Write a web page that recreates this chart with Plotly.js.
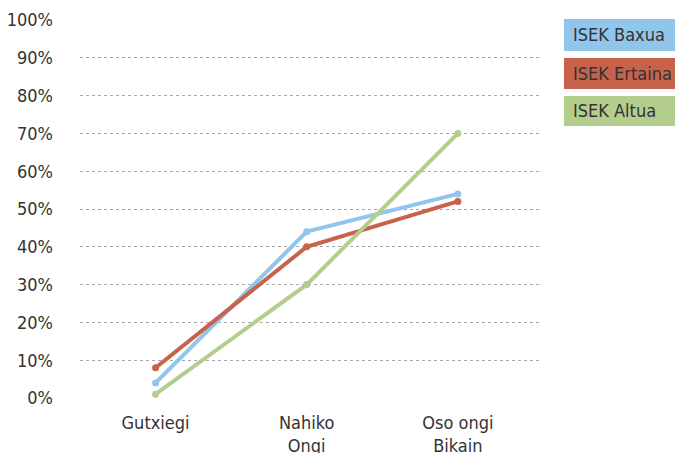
<!DOCTYPE html>
<html><head><meta charset="utf-8">
<script src="https://cdn.plot.ly/plotly-3.0.1.min.js"></script>
<style>body{margin:0;background:#fff}#c{width:675px;height:453px}</style>
</head><body><div id="c"></div>
<script>
const categories = ["Gutxiegi", "Nahiko<br>Ongi", "Oso ongi<br>Bikain"];
const seriesNames = ["ISEK Baxua", "ISEK Ertaina", "ISEK Altua"];
const baxua = [4, 44, 54];
const ertaina = [8, 40, 52];
const altua = [1, 30, 70];
const yTicks = [0,10,20,30,40,50,60,70,80,90,100];
const colors = ["#92c5ec", "#c9624b", "#b3cd8c"];
const FONT = "'Liberation Sans Narrow', 'DejaVu Sans Condensed', sans-serif";

const data = [baxua, ertaina, altua].map((vals, i) => ({
  x: [0,1,2], y: vals, name: seriesNames[i], type: 'scatter', mode: 'lines+markers',
  line: {color: colors[i], width: 4}, marker: {color: colors[i], size: 7},
  showlegend: false, hoverinfo: 'none'
}));

const legTops = [19, 58, 96], legBot = [51, 89, 126];
const shapes = [], annotations = [];
seriesNames.forEach((n, i) => {
  shapes.push({type:'rect', xref:'paper', yref:'paper',
    x0: (564-80)/461, x1: (675-80)/461,
    y0: (398-legBot[i])/378, y1: (398-legTops[i])/378,
    fillcolor: colors[i], line:{width:0}});
  annotations.push({xref:'paper', yref:'paper', x:(571-80)/461, y:(398-(legTops[i]+legBot[i])/2)/378,
    xanchor:'left', yanchor:'middle', text:n, showarrow:false,
    font:{family:FONT, size:18, color:'#333'}});
});

const layout = {
  width: 675, height: 453,
  margin: {l:80, r:134, t:20, b:55},
  paper_bgcolor:'#fff', plot_bgcolor:'#fff',
  font: {family: FONT, size: 18, color: '#333'},
  xaxis: {range:[-0.5, 2.55], tickvals:[0,1,2], ticktext: categories,
    showgrid:false, zeroline:false, showline:false, ticks:'', ticklabelstandoff: 12,
    tickfont:{size:18, color:'#333'}},
  yaxis: {range:[0,100], tickvals: yTicks, ticktext: yTicks.map(v => v + '%'),
    showgrid:true, gridcolor:'#a8a8a8', griddash:'dot', gridwidth:1,
    zeroline:false, showline:false, ticks:'', ticklabelstandoff: 26,
    tickfont:{size:18, color:'#333'}},
  shapes, annotations
};
Plotly.newPlot('c', data, layout, {displayModeBar:false, staticPlot:true});
</script></body></html>
